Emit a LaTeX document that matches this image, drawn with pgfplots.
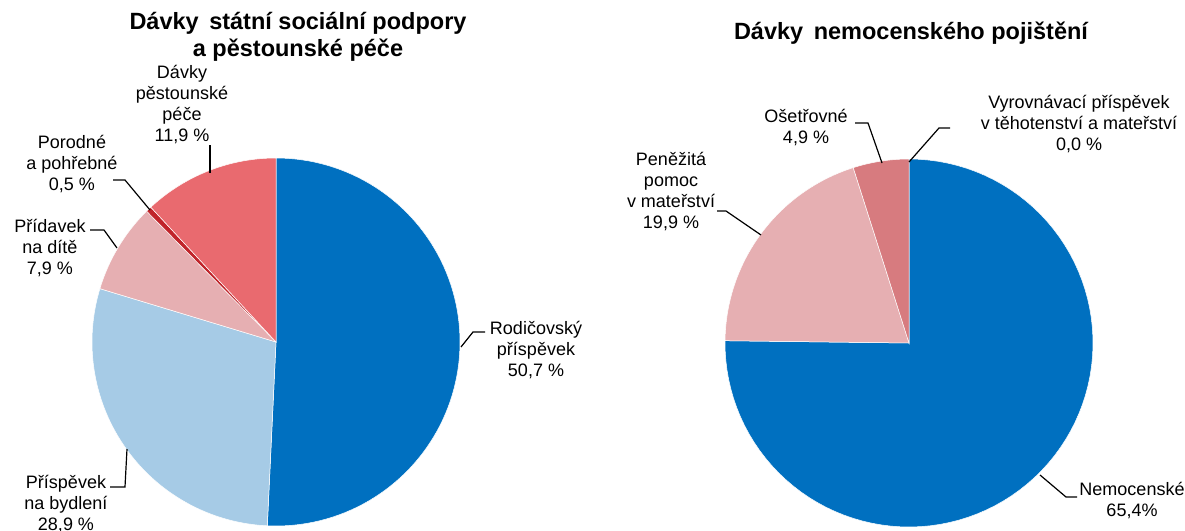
\documentclass[border=0pt]{standalone}
\usepackage{fontspec}
\setmainfont{Liberation Sans}
\usepackage{pgfplots}
\pgfplotsset{compat=1.18}
\definecolor{cBlue}{RGB}{0,112,192}
\definecolor{cLBlue}{RGB}{166,203,230}
\definecolor{cLPink}{RGB}{230,175,178}
\definecolor{cRed}{RGB}{192,36,42}
\definecolor{cSalmon}{RGB}{233,106,111}
\definecolor{cDPink}{RGB}{215,123,127}
% \slice{cx}{cy}{r}{cum. start}{cum. end}{total}{colour}
\newcommand{\slice}[7]{%
  \pgfmathsetmacro{\angA}{90-(#5/#6)*360}%
  \pgfmathsetmacro{\angB}{90-(#4/#6)*360}%
  \addplot[fill=#7, draw=white, line width=0.5pt, domain=\angA:\angB, samples=90, variable=\t]
    ({#1+#3*cos(\t)}, {#2-#3*sin(\t)}) -- (axis cs:#1,#2) -- cycle;
}
\begin{document}
\begin{tikzpicture}
\begin{axis}[at={(0,0)}, anchor=south west, width=1185pt, height=530pt, scale only axis,
  xmin=0, xmax=1185, ymin=0, ymax=530, y dir=reverse, hide axis, clip=false]
% left pie: 50.7, 28.9, 7.9, 0.5, 11.9
\slice{276}{342}{184}{0}{50.7}{99.9}{cBlue}
\slice{276}{342}{184}{50.7}{79.6}{99.9}{cLBlue}
\slice{276}{342}{184}{79.6}{87.5}{99.9}{cLPink}
\slice{276}{342}{184}{87.5}{88.0}{99.9}{cRed}
\slice{276}{342}{184}{88.0}{99.9}{99.9}{cSalmon}
% right pie: 75.2 (drawn), 19.9, 4.9, 0.0
\slice{909}{343}{184}{0}{75.2}{100}{cBlue}
\slice{909}{343}{184}{75.2}{95.1}{100}{cLPink}
\slice{909}{343}{184}{95.1}{100}{100}{cDPink}

% titles
\node[align=center, font=\fontsize{23.5}{27}\selectfont\bfseries] at (axis cs:298,37) {Dávky\hspace{4pt} státní sociální podpory\\a pěstounské péče};
\node[align=center, font=\fontsize{23.5}{27}\selectfont\bfseries] at (axis cs:911,33) {Dávky\hspace{4pt} nemocenského pojištění};

% labels
\tikzset{lab/.style={align=center, font=\fontsize{18}{21}\selectfont, inner sep=0pt}}
\node[lab] at (axis cs:182,105) {Dávky\\pěstounské\\péče\\11,9 \%};
\node[lab] at (axis cs:72,164) {Porodné\\a pohřebné\\0,5 \%};
\node[lab] at (axis cs:50,248) {Přídavek\\na dítě\\7,9 \%};
\begin{scope}
\clip (axis cs:0,0) rectangle (axis cs:581,530);
\node[lab] at (axis cs:536,350) {Rodičovský\\příspěvek\\50,7 \%};
\end{scope}
\node[lab] at (axis cs:66,504) {Příspěvek\\na bydlení\\28,9 \%};
\node[lab] at (axis cs:806,128) {Ošetřovné\\4,9 \%};
\node[lab] at (axis cs:1079,124) {Vyrovnávací příspěvek\\v těhotenství a mateřství\\0,0 \%};
\node[lab] at (axis cs:671,192) {Peněžitá\\pomoc\\v mateřství\\19,9 \%};
\node[lab] at (axis cs:1132,501) {Nemocenské\\65,4\%};

% leader lines
\tikzset{lead/.style={black, line width=1.2pt}}
\draw[lead] (axis cs:210,145) -- (axis cs:210,173);
\draw[lead] (axis cs:113,180) -- (axis cs:125,180) -- (axis cs:150,210);
\draw[lead] (axis cs:90,230) -- (axis cs:104,230) -- (axis cs:117,248);
\draw[lead] (axis cs:461,347) -- (axis cs:473,332) -- (axis cs:485,332);
\draw[lead] (axis cs:110,487) -- (axis cs:125,487) -- (axis cs:127,449);
\draw[lead] (axis cs:855,123) -- (axis cs:868,123) -- (axis cs:882,163);
\draw[lead] (axis cs:950,128) -- (axis cs:939,128) -- (axis cs:909,162);
\draw[lead] (axis cs:717,211) -- (axis cs:726,211) -- (axis cs:761,235);
\draw[lead] (axis cs:1040,475) -- (axis cs:1066,497) -- (axis cs:1077,497);
\end{axis}
\pgfresetboundingbox
\useasboundingbox (0,0) rectangle (1185pt,530pt);
\end{tikzpicture}
\end{document}
